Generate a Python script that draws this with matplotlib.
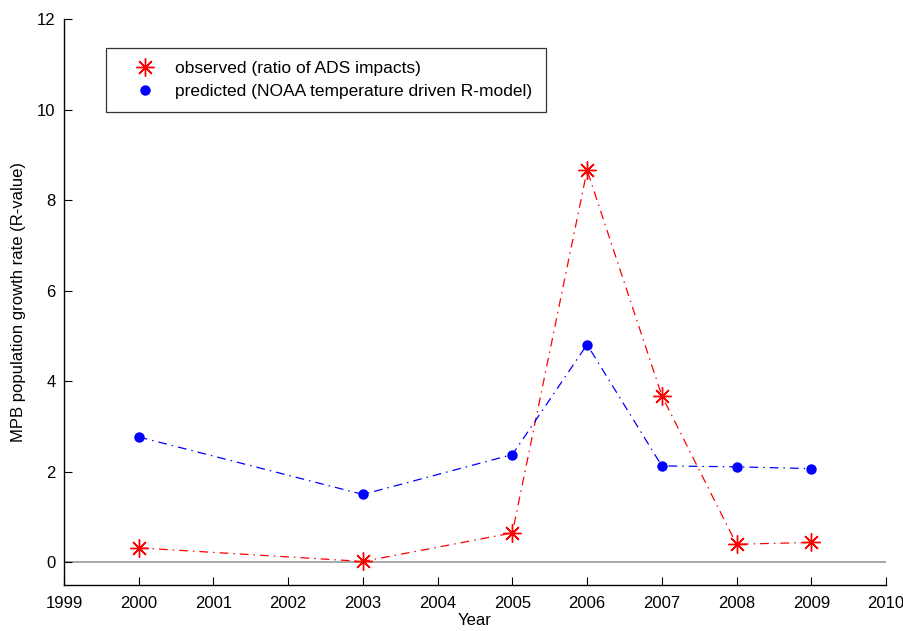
import matplotlib
matplotlib.use("Agg")
import matplotlib.pyplot as plt
from matplotlib.lines import Line2D

# Dados
anos = [2000, 2003, 2005, 2006, 2007, 2008, 2009]
observado = [0.32, 0.02, 0.65, 8.66, 3.68, 0.40, 0.44]
previsto = [2.77, 1.50, 2.38, 4.81, 2.13, 2.11, 2.07]
ticks_x = list(range(1999, 2011))
ticks_y = [0, 2, 4, 6, 8, 10, 12]

plt.rcParams["font.family"] = ["Liberation Sans", "DejaVu Sans"]
FS = 12
FS_LEG = 12.5

fig = plt.figure(figsize=(9.04, 6.31), dpi=100)
ax = fig.add_axes([0.0708, 0.0729, 0.9093, 0.8970])

ASTERISCO = (8, 2, 0)
TRACO = (7, 4, 1.2, 4)

ax.axhline(0, color="#999999", linewidth=1.2, zorder=1)

l1, = ax.plot(anos, observado, color="red", linestyle="-.", linewidth=0.9,
              marker=ASTERISCO, markersize=13, markeredgewidth=1.0, zorder=3)
l1.set_dashes(TRACO)
l2, = ax.plot(anos, previsto, color="blue", linestyle="-.", linewidth=0.9,
              marker="o", markersize=7.5, markeredgewidth=0, zorder=3)
l2.set_dashes(TRACO)

ax.set_xlim(1999, 2010)
ax.set_ylim(-0.5, 12)
ax.set_xticks(ticks_x)
ax.set_xticklabels([str(a) for a in ticks_x], fontsize=FS)
ax.set_yticks(ticks_y)
ax.set_yticklabels([str(v) for v in ticks_y], fontsize=FS)
ax.tick_params(direction="in", length=6, width=0.8, top=False, right=False)
ax.tick_params(axis="x", pad=8)
ax.tick_params(axis="y", pad=6)

for lado in ("top", "right"):
    ax.spines[lado].set_visible(False)
for lado in ("left", "bottom"):
    ax.spines[lado].set_linewidth(1.0)

ax.set_xlabel("Year", fontsize=FS, labelpad=1)
ax.set_ylabel("MPB population growth rate (R-value)", fontsize=FS, labelpad=8)

h1 = Line2D([], [], color="red", linestyle="none", marker=ASTERISCO,
            markersize=13, markeredgewidth=1.0)
h2 = Line2D([], [], color="blue", linestyle="none", marker="o",
            markersize=7.5, markeredgewidth=0)
leg = ax.legend([h1, h2],
                ["observed (ratio of ADS impacts)",
                 "predicted (NOAA temperature driven R-model)"],
                loc="upper left", bbox_to_anchor=(0.051, 0.949),
                fontsize=FS_LEG, frameon=True, fancybox=False, numpoints=1,
                handlelength=3.0, handletextpad=0.25, borderpad=0.75,
                labelspacing=0.45, borderaxespad=0)
leg.get_frame().set_edgecolor("black")
leg.get_frame().set_linewidth(0.9)

fig.savefig("out.png", dpi=100, facecolor="white")
